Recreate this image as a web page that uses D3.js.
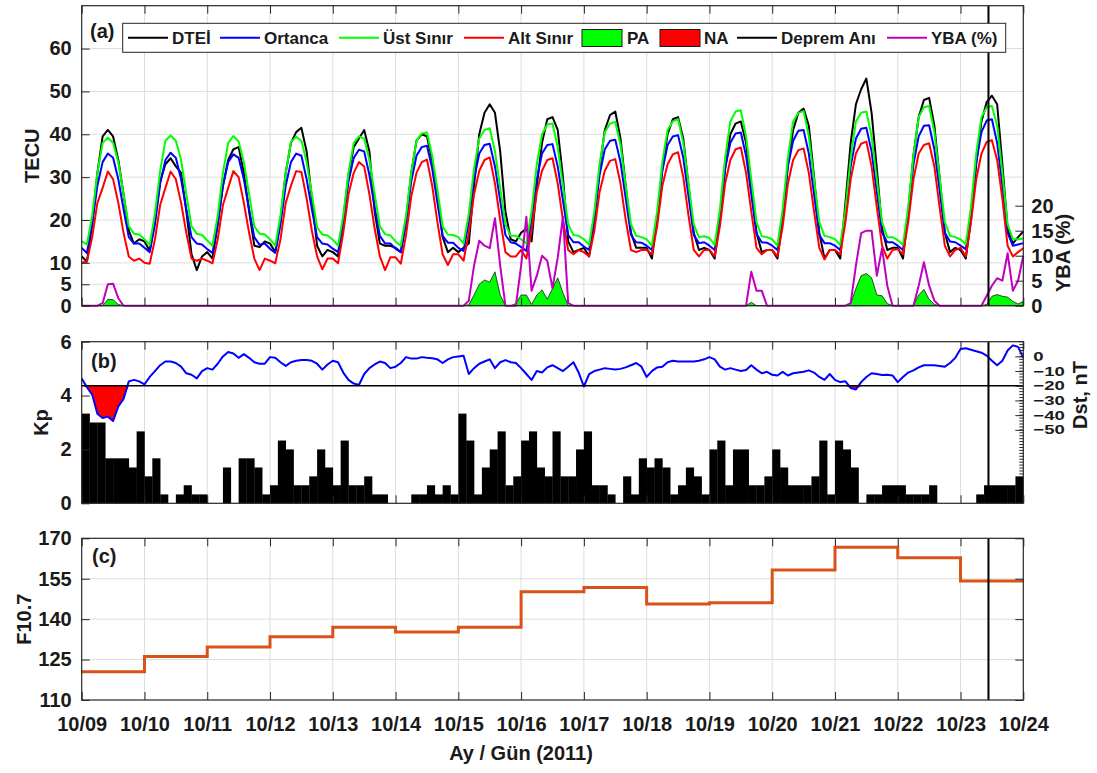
<!DOCTYPE html>
<html>
<head>
<meta charset="utf-8">
<script src="https://cdn.jsdelivr.net/npm/d3@7"></script>
<style>
  body { margin: 0; background: #fff; }
  svg { display: block; background: #fff; }
</style>
</head>
<body>
<svg id="chart" width="1097" height="773"></svg>
<script>
// ---------- data (2-hour samples, 12 per day, 10/09 00UT .. 10/24 00UT) ----------
const dayLabels = ["10/09","10/10","10/11","10/12","10/13","10/14","10/15","10/16",
                   "10/17","10/18","10/19","10/20","10/21","10/22","10/23","10/24"];

const dtei = [
  11.5, 10.3, 19, 31, 39.5, 41, 39.5, 34, 26, 17.5, 14.5, 15.5,      // 10/09
  15, 12.8, 20, 29, 33, 34.4, 32.5, 31, 22, 12, 8.3, 11.5,           // 10/10
  12.5, 11, 19, 28, 34, 36.5, 37, 31, 22, 14, 13.7, 15,              // 10/11
  14.5, 12.5, 20, 31, 38, 40.5, 41.5, 36, 25, 14, 11.5, 13,          // 10/12
  12.5, 11.5, 20, 30.5, 37, 39, 41, 36, 22, 14.5, 14, 14,            // 10/13
  13.5, 12.5, 20, 31, 38.5, 40, 39.5, 34, 26, 16, 12.5, 13.5,        // 10/14
  12.5, 13.5, 14.5, 28, 40, 45, 47, 45, 36, 22, 15.5, 15,            // 10/15
  17, 18, 15, 28, 38, 43.5, 44, 41, 30, 15, 12.5, 13,                // 10/16
  13.5, 11.5, 20, 32, 41, 44.5, 45.3, 39, 28, 17, 13.5, 13.5,        // 10/17
  13.5, 11, 20, 32, 40, 43.5, 44, 39, 28, 17, 13, 13.5,              // 10/18
  13, 11, 20, 32, 40, 42.5, 43, 38, 28, 17, 12.5, 13,                // 10/19
  13, 11, 20, 33, 41, 45, 46, 42, 30, 17, 11, 13,                    // 10/20
  13, 11, 24, 38, 47, 50.5, 53, 45, 32, 18, 13, 13.5,                // 10/21
  13.5, 11, 22, 35, 44, 48, 48.5, 42, 30, 17, 12.5, 13.5,            // 10/22
  13, 11, 20, 33, 43, 47.5, 49, 47, 33, 18, 14.5, 16,                // 10/23
  17.3
];

const median = [
  13.5, 12.3, 19, 28, 33.5, 35.5, 34.5, 29.5, 22.5, 16, 14.5, 14.5,
  13.5, 12.5, 19, 28.5, 34, 35.7, 34.5, 29.5, 22.5, 16, 14.5, 14.3,
  13.2, 12.3, 19, 28, 33.5, 35.3, 34.5, 29.5, 22.5, 16, 14.2, 14.5,
  13.3, 12.3, 19, 28, 33.5, 35.5, 35, 29.5, 22.5, 16, 14.5, 14.3,
  13.3, 12.5, 19, 29, 34.5, 36.4, 36, 30.5, 23, 16.3, 14.5, 14.5,
  13.3, 12.5, 19, 29, 35, 37, 37.3, 32, 24, 16.3, 14.7, 14.7,
  13.5, 12.8, 19.5, 29.5, 35.5, 37.5, 37.8, 32.5, 24.5, 16.5, 14.8, 14.5,
  13.7, 12.8, 19.5, 29.5, 35.5, 37.5, 37.7, 32.5, 24.5, 16.5, 14.8, 14.8,
  13.8, 13, 20, 30.5, 36.5, 38.5, 38.7, 33.5, 25, 16.5, 14.8, 14.7,
  14, 13, 20.5, 31.5, 37.5, 39.5, 39.8, 34.5, 25.5, 16.5, 14.6, 14.8,
  14, 13, 20.5, 32, 38, 40.2, 40.4, 35, 26, 16.8, 14.8, 14.7,
  14, 13, 21, 32.5, 38.5, 40.8, 41, 35.5, 26, 16.5, 14.6, 14.6,
  14, 13, 21, 32.5, 39, 41.3, 41.5, 36, 26.5, 17, 14.8, 14.8,
  14, 13, 21.5, 33, 39.5, 42, 42.1, 36.5, 27, 17, 15, 14.8,
  14, 13.2, 21.5, 33.5, 40.5, 43.2, 43.5, 38, 28, 17, 14, 14.3,
  14.6
];

const upper = [
  15.0, 14.3, 21, 31, 38, 39.2, 38, 33.5, 26, 18.5, 16.8, 16.6,
  15.5, 14.2, 21.5, 31.5, 38.5, 39.7, 38.5, 34, 26, 18.5, 16.8, 16.5,
  15.2, 14.0, 21, 31, 38, 39.6, 38.3, 33.5, 26, 18.5, 16.8, 16.6,
  15.5, 14.0, 21, 31, 38.2, 39.4, 38.5, 33.5, 26, 18.3, 16.6, 16.4,
  15.4, 14.0, 21, 31, 38, 39.5, 39, 34, 26, 18.5, 16.7, 16.4,
  15.0, 14.0, 21, 31, 38.5, 40.2, 40.4, 35, 27, 18.5, 16.6, 16.5,
  16.0, 14.5, 21.5, 32, 39, 41, 41.4, 36, 27.5, 19, 16.3, 16.3,
  15.5, 14.5, 22, 33, 40, 42.3, 42.5, 37, 28, 19, 16.5, 16.3,
  15.5, 14.2, 22, 33, 40.5, 42.5, 42.9, 37.5, 28, 19, 16.3, 16.0,
  15.5, 14.0, 22, 33.5, 41, 43, 43.5, 38, 28.5, 19, 16.0, 16.2,
  15.8, 14.2, 22.5, 34.5, 43, 45.3, 45.6, 39.5, 29.5, 19.5, 16.2, 16.0,
  15.5, 14.0, 22.5, 34.5, 43, 45, 45.4, 39.5, 29.5, 19.5, 16.3, 16.0,
  15.5, 14.2, 22.5, 34.5, 43, 45, 45.3, 39.5, 29.5, 19.5, 16.0, 16.0,
  15.3, 14.2, 23, 35, 44, 46.3, 46.6, 40.5, 30, 19.5, 16.3, 16.0,
  15.5, 14.3, 23, 35.5, 44, 46.3, 46.6, 42, 31, 19, 15.5, 15.5,
  15.7
];

const lower = [
  10, 10.3, 16, 24, 27.5, 31.3, 29.5, 24, 17, 11.5, 10.5, 11,
  10, 9.8, 15.5, 23.5, 27.5, 31.3, 29.5, 24, 17, 11, 10.5, 11,
  10.5, 9.9, 15.5, 23.5, 27.5, 31.4, 30, 24, 17, 11, 8.3, 11,
  10.5, 9.9, 15.5, 24, 28, 31.4, 31.2, 25, 17.5, 11.5, 8.5, 11,
  11, 9.9, 17, 26, 31, 33.5, 32.5, 26, 18, 11.5, 8.3, 11.3,
  11.3, 9.8, 16.5, 25.5, 31, 33.5, 34.1, 28, 19.5, 12, 9.5, 12,
  12, 10.5, 17, 26, 31.5, 34, 34.6, 28.5, 20, 12.5, 11.5, 11.5,
  13, 11, 17.5, 26.5, 31.5, 34, 34.4, 28.5, 20, 13, 12, 13,
  12.5, 11.5, 17.5, 26.5, 31.5, 33.8, 34.2, 28.5, 20, 13, 12.5, 13,
  13, 12, 18.5, 28, 33, 35.3, 35.8, 30, 21, 13, 11.5, 13,
  13, 11.5, 18.5, 28.5, 34, 36.5, 36.9, 31, 22, 13.5, 12, 13,
  13, 11.5, 18.5, 28.5, 34, 36.3, 36.7, 31, 22, 13.5, 10.8, 13,
  13, 12, 19.5, 29.5, 35.5, 37.8, 38.3, 32.5, 23, 14, 11, 13,
  13.2, 12, 19.5, 29.5, 35.5, 37.5, 37.9, 32.5, 23, 14, 11.5, 13,
  13.5, 11.5, 19.5, 29.5, 35.5, 38.2, 38.6, 34, 25, 14, 11.5, 12.5,
  13.4
];

// positive anomaly (TECU)
const pa = [
  0, 0, 0, 0, 0, 1.5, 1.4, 0.3, 0, 0, 0, 0,
  0, 0, 0, 0, 0, 0, 0, 0, 0, 0, 0, 0,
  0, 0, 0, 0, 0, 0, 0, 0, 0, 0, 0, 0,
  0, 0, 0, 0, 0, 0, 0, 0, 0, 0, 0, 0,
  0, 0, 0, 0, 0, 0, 0, 0, 0, 0, 0, 0,
  0, 0, 0, 0, 0, 0, 0, 0, 0, 0, 0, 0,
  0, 0, 0.2, 2.5, 5, 6, 5.5, 7.9, 2.5, 0, 0, 0.5,
  2.5, 2.5, 0.3, 2.5, 3.7, 1.5, 4, 6.5, 3, 0, 0, 0,
  0, 0, 0, 0, 0, 0, 0, 0, 0, 0, 0, 0,
  0, 0, 0, 0, 0, 0, 0, 0, 0, 0, 0, 0,
  0, 0, 0, 0, 0, 0, 0, 0, 0.8, 0, 0, 0,
  0, 0, 0, 0, 0, 0, 0, 0, 0, 0, 0, 0,
  0, 0, 0, 0.5, 4, 7, 7.5, 6.5, 2.5, 2.3, 0.5, 0,
  0, 0, 0, 0, 2.5, 3.8, 1.5, 0.3, 0, 0, 0, 0,
  0, 0, 0, 0, 0, 0.3, 2.2, 2.6, 2.2, 2, 1, 0.4,
  1
];

// relative deviation (%)
const yba = [
  0, 0, 0, 0, 0.5, 4.3, 4.4, 1.5, 0, 0, 0, 0,
  0, 0, 0, 0, 0, 0, 0, 0, 0, 0, 0, 0,
  0, 0, 0, 0, 0, 0, 0, 0, 0, 0, 0, 0,
  0, 0, 0, 0, 0, 0, 0, 0, 0, 0, 0, 0,
  0, 0, 0, 0, 0, 0, 0, 0, 0, 0, 0, 0,
  0, 0, 0, 0, 0, 0, 0, 0, 0, 0, 0, 0,
  0, 0, 1, 8, 13, 12, 11.5, 17.5, 8, 0, 0, 0,
  8, 17.8, 3, 6, 10, 9, 3.5, 9.6, 17.8, 0.5, 0, 0,
  0, 0, 0, 0, 0, 0, 0, 0, 0, 0, 0, 0,
  0, 0, 0, 0, 0, 0, 0, 0, 0, 0, 0, 0,
  0, 0, 0, 0, 0, 0, 0, 0, 6.8, 3, 3, 0,
  0, 0, 0, 0, 0, 0, 0, 0, 0, 0, 0, 0,
  0, 0, 0, 0.5, 8, 14.5, 15, 15, 6, 11.5, 4, 0,
  0, 0, 0, 0, 4, 8.7, 4, 1, 0, 0, 0, 0,
  0, 0, 0, 0, 0, 2, 4, 5.5, 5, 10.5, 3, 5,
  10
];

// Dst index (nT), 2-hour samples
const dst = [
  -15, -21, -26, -39, -42, -41, -44, -34, -29, -17, -16, -17,
  -19, -14, -10, -6, -3.5, -3.5, -4.5, -7, -11.5, -12.5, -15, -10,
  -8, -9, -5, 0, 3, 2, -1, 1.5, -1, -4, -5, -5,
  -0.5, -1, -4, -6.5, -4, -3, -2.5, -2.5, -3, -5, -9, -5.5,
  -3, -4, -11, -16, -18.5, -19.5, -12, -8, -5.5, -3.5, -4.5, -8,
  -7, -4.5, -0.5, -1.5, -1.5, -0.5, -1, -1.3, -2, -4.5, -2, -0.5,
  0, 0.5, -12, -8, -5, -3.5, -2, -8, -4, -2.5, -4, -4.5,
  -8, -12, -16, -10, -11, -7.5, -6, -8, -10, -7, -4, -11,
  -20.5, -12, -10, -9, -8, -8.5, -9, -8.5, -7.5, -6, -4.5, -7,
  -14, -10, -7.5, -7, -4, -3, -3.5, -3.5, -3.5, -3.5, -3, -2,
  -0.5, -2, -7, -9, -8, -9, -10, -9.3, -6, -9, -11.5, -10.5,
  -12.5, -13, -10.5, -13, -11.5, -11, -10.5, -9.5, -11, -14, -16, -12,
  -16, -17.5, -17, -21.5, -22.5, -17.5, -14, -11.5, -12, -12.7, -12.5, -13,
  -17.5, -14, -11, -9.5, -7.5, -6, -6, -6, -6.5, -7, -4.5, -1,
  5, 5.5, 4.5, 3.5, 2.5, 0.5, -3, -6, -3, 4, 7.5, 6.5,
  -1
];
const dstThreshold = -20;

// 3-hour Kp, 8 per day
const kp = [
  3.33, 3, 3, 1.67, 1.67, 1.67, 1.33, 2.67,
  1, 1.67, 0.33, 0, 0.33, 0.67, 0.33, 0.33,
  0, 0, 1.33, 0, 1.67, 1.67, 1.33, 0.33,
  0.67, 2.33, 2, 0.67, 0.67, 1, 2, 1.33,
  0.67, 2.33, 0.67, 0.67, 1, 0.33, 0.33, 0,
  0, 0, 0.33, 0.33, 0.67, 0.33, 0.67, 0.33,
  3.33, 2.33, 0.33, 1.33, 2, 2.67, 0.67, 1,
  2.33, 2.67, 1.33, 1, 2.67, 1, 1, 2,
  2.67, 0.67, 0.67, 0.33, 0, 1, 0.33, 1.67,
  1.33, 1.67, 1.33, 0.33, 0.67, 1.33, 1, 0.33,
  2, 2.33, 0.67, 2, 2, 0.67, 0.67, 1,
  2, 1.33, 0.67, 0.67, 0.67, 1, 2.33, 0.33,
  2.33, 2, 1.33, 0, 0.33, 0.33, 0.67, 0.67,
  0.67, 0.33, 0.33, 0.33, 0.67, 0, 0, 0,
  0, 0, 0.33, 0.67, 0.67, 0.67, 0.67, 1
];

// daily solar flux
const f107 = [120.5, 126.1, 129.7, 133.5, 137, 135.2, 137, 150.2,
              151.7, 145.6, 146.1, 158.2, 166.7, 162.8, 154.2];

// Van earthquake, 2011-10-23 10:41 UT (days since 10/09 00UT)
const quakeDay = 14 + (10 + 41 / 60) / 24;

const tecTicks = [0, 5, 10, 20, 30, 40, 50, 60];
const ybaTicks = [0, 5, 10, 15, 20];
const kpTicks = [0, 2, 4, 6];
const dstTicks = [0, -10, -20, -30, -40, -50];
const f107Ticks = [110, 125, 140, 155, 170];

// ---------- layout ----------
const FONT = '"Liberation Sans", Arial, Helvetica, sans-serif';
const AX = "#262626";
const GRID = "#dedede";
const X0 = 81.7, X1 = 1023.3;
const PA_ = { top: 5.7, bottom: 305.7 };
const PB = { top: 341.7, bottom: 503.3 };
const PC = { top: 538.3, bottom: 700 };

const svg = d3.select("#chart");
const x = d3.scaleLinear().domain([0, 15]).range([X0, X1]);
const yA = d3.scaleLinear().domain([0, 70]).range([PA_.bottom, PA_.top]);
const yYba = d3.scaleLinear().domain([0, 60]).range([PA_.bottom, PA_.top]);
const yKp = d3.scaleLinear().domain([0, 6]).range([PB.bottom, PB.top]);
const yDst = d3.scaleLinear().domain([-100, 10]).range([PB.bottom, PB.top]);
const yF = d3.scaleLinear().domain([110, 170]).range([PC.bottom, PC.top]);
const tOf = i => i / 12;
const days = d3.range(0, 16);

function styleAxis(g, size) {
  g.select(".domain").remove();
  g.selectAll(".tick line").attr("stroke", AX).attr("stroke-width", 1);
  g.selectAll(".tick text").attr("fill", "#1a1a1a")
    .style("font-family", FONT).style("font-weight", "bold").style("font-size", (size || 20) + "px");
}

function vGrid(p) {
  svg.append("g").selectAll("line").data(d3.range(1, 15)).join("line")
    .attr("x1", d => x(d)).attr("x2", d => x(d))
    .attr("y1", p.top).attr("y2", p.bottom)
    .attr("stroke", GRID).attr("stroke-width", 1);
}
function hGrid(vals, y) {
  svg.append("g").selectAll("line").data(vals).join("line")
    .attr("x1", X0).attr("x2", X1)
    .attr("y1", d => y(d)).attr("y2", d => y(d))
    .attr("stroke", GRID).attr("stroke-width", 1);
}
function dayTicks(p, withLabels) {
  svg.append("g").attr("transform", `translate(0,${p.top})`)
    .call(d3.axisTop(x).tickValues(days).tickSize(-8).tickFormat(""))
    .call(styleAxis);
  svg.append("g").attr("transform", `translate(0,${p.bottom})`)
    .call(d3.axisBottom(x).tickValues(days).tickSize(-8).tickPadding(17)
      .tickFormat(withLabels ? (d => dayLabels[d]) : ""))
    .call(styleAxis);
}
function frame(p) {
  svg.append("rect").attr("x", X0).attr("y", p.top)
    .attr("width", X1 - X0).attr("height", p.bottom - p.top)
    .attr("fill", "none").attr("stroke", AX).attr("stroke-width", 1.2);
}
function quakeLine(p) {
  svg.append("line").attr("x1", x(quakeDay)).attr("x2", x(quakeDay))
    .attr("y1", p.top).attr("y2", p.bottom)
    .attr("stroke", "#000").attr("stroke-width", 2);
}
function label(txt, px, py, opts) {
  const o = opts || {};
  return svg.append("text").text(txt)
    .attr("transform", `translate(${px},${py})` + (o.rot ? " rotate(-90)" : ""))
    .attr("text-anchor", o.anchor || "start")
    .style("font-family", FONT).style("font-weight", "bold")
    .style("font-size", (o.size || 20) + "px").attr("fill", "#1a1a1a");
}

// ---------- panel (a): TEC ----------
vGrid(PA_);
hGrid(tecTicks.filter(v => v > 0), yA);

svg.append("path").datum(pa)
  .attr("d", d3.area().x((d, i) => x(tOf(i))).y0(yA(0)).y1(d => yA(d)))
  .attr("fill", "#00ff00").attr("stroke", "#1a1a1a").attr("stroke-width", 0.8);

const tecLine = d3.line().x((d, i) => x(tOf(i))).y(d => yA(d));
[[dtei, "#000000"], [median, "#0000ff"], [upper, "#00ff00"], [lower, "#ff0000"]].forEach(([arr, col]) => {
  svg.append("path").datum(arr).attr("d", tecLine)
    .attr("fill", "none").attr("stroke", col).attr("stroke-width", 2).attr("stroke-linejoin", "round");
});
svg.append("path").datum(yba)
  .attr("d", d3.line().x((d, i) => x(tOf(i))).y(d => yYba(d)))
  .attr("fill", "none").attr("stroke", "#bf00bf").attr("stroke-width", 2).attr("stroke-linejoin", "round");

quakeLine(PA_);
frame(PA_);
dayTicks(PA_, false);
svg.append("g").attr("transform", `translate(${X0},0)`)
  .call(d3.axisLeft(yA).tickValues(tecTicks).tickSize(-8).tickPadding(10).tickFormat(d3.format("d")))
  .call(styleAxis);
svg.append("g").attr("transform", `translate(${X1},0)`)
  .call(d3.axisRight(yYba).tickValues(ybaTicks).tickSize(-8).tickPadding(8).tickFormat(d3.format("d")))
  .call(styleAxis);

label("TECU", 39, (PA_.top + PA_.bottom) / 2, { rot: true, anchor: "middle" });
label("YBA (%)", 1070, 253, { rot: true, anchor: "middle" });
label("(a)", 90, 38);

// legend
const lg = svg.append("g");
lg.append("rect").attr("x", 122.7).attr("y", 23.3).attr("width", 1005.7 - 122.7).attr("height", 29)
  .attr("fill", "#fff").attr("stroke", AX).attr("stroke-width", 1);
const legendItems = [
  { type: "line", color: "#000000", x: 128, tx: 172, text: "DTEİ" },
  { type: "line", color: "#0000ff", x: 220, tx: 264, text: "Ortanca" },
  { type: "line", color: "#00ff00", x: 339, tx: 383, text: "Üst Sınır" },
  { type: "line", color: "#ff0000", x: 464, tx: 508, text: "Alt Sınır" },
  { type: "patch", color: "#00ff00", x: 582, tx: 627, text: "PA" },
  { type: "patch", color: "#ff0000", x: 660, tx: 704, text: "NA" },
  { type: "line", color: "#000000", x: 737, tx: 781, text: "Deprem Anı" },
  { type: "line", color: "#bf00bf", x: 887, tx: 931, text: "YBA (%)" }
];
const LY = 37.8;
legendItems.forEach(it => {
  if (it.type === "line") {
    lg.append("line").attr("x1", it.x).attr("x2", it.x + 40).attr("y1", LY).attr("y2", LY)
      .attr("stroke", it.color).attr("stroke-width", 2);
  } else {
    lg.append("rect").attr("x", it.x).attr("y", 29.5).attr("width", 40).attr("height", 17)
      .attr("fill", it.color).attr("stroke", "#1a1a1a").attr("stroke-width", 1);
  }
  lg.append("text").text(it.text).attr("x", it.tx).attr("y", LY + 6.2)
    .style("font-family", FONT).style("font-weight", "bold").style("font-size", "17px")
    .attr("fill", "#1a1a1a");
});

// ---------- panel (b): Kp and Dst ----------
vGrid(PB);
svg.append("g").selectAll("rect").data(kp).join("rect")
  .attr("x", (d, k) => x(k / 8)).attr("width", (d, k) => x((k + 1) / 8) - x(k / 8) + 0.3)
  .attr("y", d => yKp(d)).attr("height", d => yKp(0) - yKp(d))
  .attr("fill", "#000");

svg.append("path").datum(dst)
  .attr("d", d3.area().x((d, i) => x(tOf(i)))
    .y0(yDst(dstThreshold)).y1(d => yDst(Math.min(d, dstThreshold))))
  .attr("fill", "#ff0000");
svg.append("path").datum(dst)
  .attr("d", d3.line().x((d, i) => x(tOf(i))).y(d => yDst(d)))
  .attr("fill", "none").attr("stroke", "#0000ff").attr("stroke-width", 2).attr("stroke-linejoin", "round");
svg.append("line").attr("x1", X0).attr("x2", X1)
  .attr("y1", yDst(dstThreshold)).attr("y2", yDst(dstThreshold))
  .attr("stroke", "#000").attr("stroke-width", 1.6);

quakeLine(PB);
frame(PB);
dayTicks(PB, false);
svg.append("g").attr("transform", `translate(${X0},0)`)
  .call(d3.axisLeft(yKp).tickValues(kpTicks).tickSize(-8).tickPadding(10).tickFormat(d3.format("d")))
  .call(styleAxis);
// Dst axis: dense minor ticks, major ticks with tightly packed, horizontally stretched labels
svg.append("g").selectAll("line").data(d3.range(-80, 11, 2)).join("line")
  .attr("x1", X1 - 4).attr("x2", X1).attr("y1", d => yDst(d)).attr("y2", d => yDst(d))
  .attr("stroke", AX).attr("stroke-width", 1);
svg.append("g").attr("transform", `translate(${X1},0)`)
  .call(d3.axisRight(yDst).tickValues(dstTicks).tickSize(-8).tickFormat(""))
  .call(styleAxis);
svg.append("g").selectAll("text").data(dstTicks).join("text")
  .text(d => d3.format("d")(d))
  .attr("transform", d => `translate(${X1 + 10},${yDst(d)}) scale(1.45,1)`)
  .attr("dy", "0.35em")
  .style("font-family", FONT).style("font-weight", "bold").style("font-size", "12.8px")
  .attr("fill", "#1a1a1a");

label("Kp", 48, (PB.top + PB.bottom) / 2, { rot: true, anchor: "middle" });
label("Dst, nT", 1087, 395, { rot: true, anchor: "middle" });
label("(b)", 91, 368);

// ---------- panel (c): F10.7 ----------
vGrid(PC);
hGrid([125, 140, 155], yF);
const fSteps = f107.map((v, d) => [d, v]).concat([[15, f107[f107.length - 1]]]);
svg.append("path").datum(fSteps)
  .attr("d", d3.line().curve(d3.curveStepAfter).x(d => x(d[0])).y(d => yF(d[1])))
  .attr("fill", "none").attr("stroke", "#d95319").attr("stroke-width", 3);

quakeLine(PC);
frame(PC);
dayTicks(PC, true);
svg.append("g").attr("transform", `translate(${X0},0)`)
  .call(d3.axisLeft(yF).tickValues(f107Ticks).tickSize(-8).tickPadding(10))
  .call(styleAxis);
svg.append("g").attr("transform", `translate(${X1},0)`)
  .call(d3.axisRight(yF).tickValues(f107Ticks).tickSize(-8).tickFormat(""))
  .call(styleAxis);

label("F10.7", 31, (PC.top + PC.bottom) / 2, { rot: true, anchor: "middle" });
label("(c)", 92, 563);
label("Ay / Gün (2011)", 521, 760, { anchor: "middle" });
</script>
</body>
</html>
